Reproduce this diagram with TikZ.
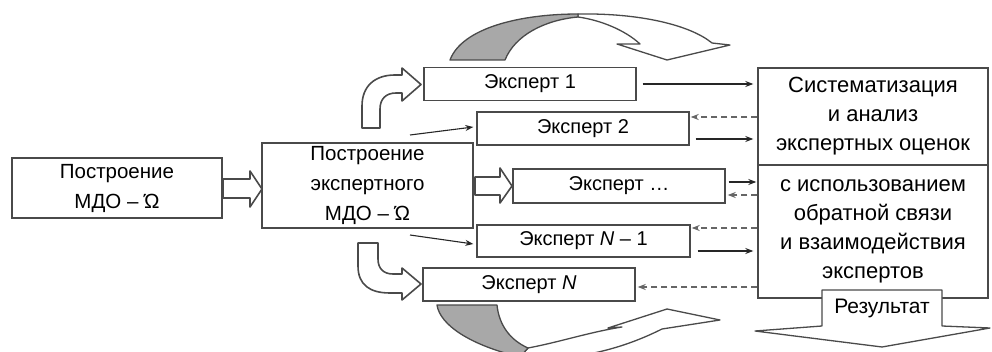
\documentclass[tikz,border=0pt]{standalone}
\usepackage{fontspec}
\setmainfont{Liberation Sans}
\usetikzlibrary{arrows.meta}
\definecolor{edge}{HTML}{4A4A4A}
\definecolor{shade}{HTML}{A8A8A8}
\begin{document}
\begin{tikzpicture}[x=1pt,y=-1pt,
  box/.style={draw=edge, line width=1.4pt, fill=white, inner sep=0pt, align=center},
  leftbox/.style={box, font=\fontsize{20.5}{30}\selectfont},
  expbox/.style={box, minimum width=212pt, minimum height=33pt, font=\fontsize{20}{24}\selectfont},
  rbox/.style={box, minimum width=230pt, font=\fontsize{22}{29}\selectfont},
  blockarrow/.style={draw=edge, line width=1.6pt, fill=white, line join=round},
  ribbon/.style={draw=edge, line width=1.3pt, line join=round},
  solidcon/.style={draw=black!85, line width=1.1pt, -{Stealth[length=8pt,width=6pt]}},
  dashcon/.style={draw=black!60, line width=1.3pt, dash pattern=on 6pt off 4pt, -{Stealth[length=8pt,width=6pt]}}
]
\useasboundingbox (0,0) rectangle (992,352);
\clip (0,0) rectangle (992,352);

% main boxes
\node[leftbox, minimum width=210pt, minimum height=60pt] (A) at (117,188) {Построение\\МДО – Ώ};
\node[leftbox, minimum width=211pt, minimum height=85pt] (B) at (367.5,185.5) {Построение\\экспертного\\МДО – Ώ};

% experts
\node[expbox] (E1) at (530,84) {Эксперт 1};
\node[expbox] (E2) at (583,128.5) {Эксперт 2};
\node[expbox, minimum height=34pt] (E3) at (619,186) {Эксперт …};
\node[expbox, minimum width=213pt, minimum height=32pt] (E4) at (583.5,241) {Эксперт \textit{N} – 1};
\node[expbox] (E5) at (529,284.5) {Эксперт \textit{N}};

% right boxes
\node[rbox, minimum height=97pt] (R1) at (873,116.5) {Систематизация\\и анализ\\экспертных оценок};
\node[rbox, minimum height=133pt] (R2) at (873,231.5) {с использованием\\обратной связи\\и взаимодействия\\экспертов};

% straight block arrows
\path[blockarrow] (223,179) -- (250,179) -- (250,171) -- (262,189) -- (250,207) -- (250,198) -- (223,198) -- cycle;
\path[blockarrow] (475,177) -- (500,177) -- (500,168) -- (512,186) -- (500,203) -- (500,195) -- (475,195) -- cycle;

% curved block arrow up to expert 1
\path[blockarrow] (362,128) -- (362,106) .. controls (362,86) and (375,75) .. (395,75) -- (402,75) -- (402,68)
  -- (421,84.5) -- (402,101) -- (402,93) -- (396,93) .. controls (386,93) and (380,99) .. (380,109) -- (380,128) -- cycle;

% curved block arrow down to expert N
\path[blockarrow] (358,243) -- (358,266) .. controls (358,285) and (370,293) .. (390,293) -- (402,293) -- (402,300)
  -- (421,284) -- (402,268) -- (402,274) -- (393,274) .. controls (383,274) and (378,268) .. (378,259) -- (378,243) -- cycle;

% top curved down arrow
\path[ribbon, fill=white] (578,14) .. controls (640,13) and (690,25) .. (712,43) -- (730,45) -- (667,60) -- (617,44) -- (640,44)
  .. controls (625,30) and (600,20) .. (578,17) -- cycle;
\path[ribbon, fill=shade] (450,60) .. controls (462,28) and (520,14) .. (578,14) -- (578,17)
  .. controls (545,20) and (515,35) .. (505,60) -- cycle;

% bottom curved up arrow
\path[ribbon, fill=white] (528,348) .. controls (560,342) and (590,332) .. (622,327) -- (608,328) -- (667,309) -- (720,320) -- (662,329)
  .. controls (640,340) and (610,352) .. (570,357) -- (520,357) -- cycle;
\path[ribbon, fill=shade] (437,305) -- (497,305) .. controls (499,325) and (510,340) .. (528,348) -- (520,357)
  .. controls (470,345) and (440,325) .. (437,305) -- cycle;

% result arrow
\path[ribbon, fill=white] (755,331) -- (822,326) -- (822,290) -- (942,290) -- (942,326) -- (990,328) -- (882,347) -- cycle;
\node[font=\fontsize{21}{24}\selectfont, inner sep=0pt] (res) at (882,308) {Результат};

% left thin arrows
\coordinate (s2) at (410,135);
\coordinate (s4) at (410,235);
\draw[solidcon] (s2) -- ([xshift=-3pt,yshift=1.5pt]E2.west);
\draw[solidcon] (s4) -- ([xshift=-3pt,yshift=-3pt]E4.west);

% right connectors
\draw[solidcon] ([xshift=6pt]E1.east) -- ([xshift=-4pt]E1.east -| R1.west);
\draw[dashcon] ([yshift=11.5pt]E2.east -| R1.west) -- ([xshift=1pt,yshift=11.5pt]E2.east);
\draw[solidcon] ([xshift=6pt,yshift=-10.5pt]E2.east) -- ([xshift=-4pt,yshift=-10.5pt]E2.east -| R1.west);
\draw[solidcon] ([xshift=3pt,yshift=4pt]E3.east) -- ([xshift=-1pt,yshift=4pt]E3.east -| R2.west);
\draw[dashcon] ([yshift=-9pt]E3.east -| R2.west) -- ([xshift=2pt,yshift=-9pt]E3.east);
\draw[dashcon] ([yshift=13pt]E4.east -| R2.west) -- ([xshift=1pt,yshift=13pt]E4.east);
\draw[solidcon] ([xshift=7pt,yshift=-10pt]E4.east) -- ([xshift=-4pt,yshift=-10pt]E4.east -| R2.west);
\draw[dashcon] ([yshift=-2.5pt]E5.east -| R2.west) -- ([xshift=2pt,yshift=-2.5pt]E5.east);
\end{tikzpicture}
\end{document}
